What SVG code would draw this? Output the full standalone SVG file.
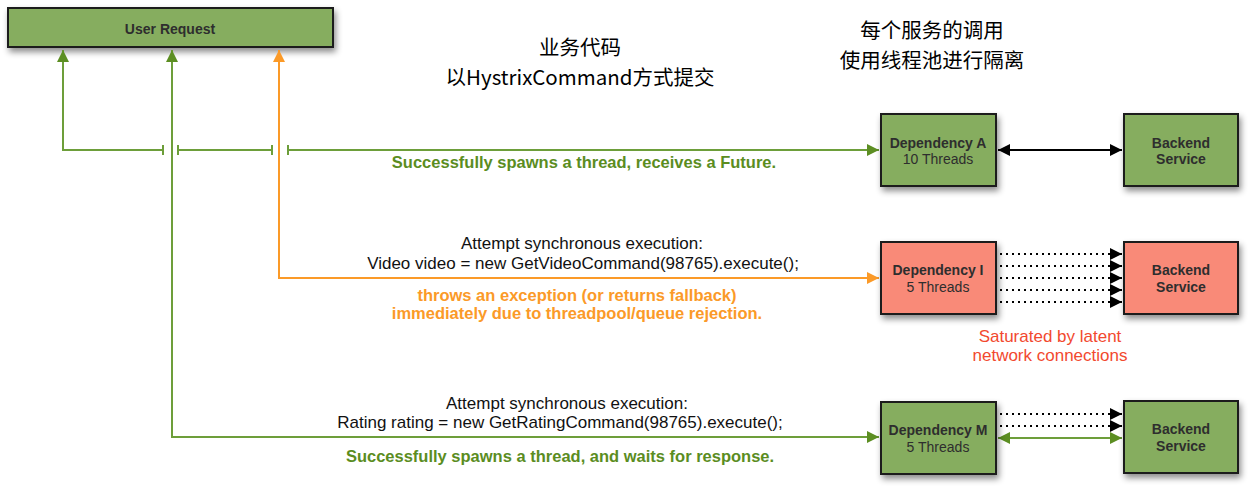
<svg xmlns="http://www.w3.org/2000/svg" width="1250" height="488" viewBox="0 0 1250 488">
<defs>
<filter id="sh" x="-10%" y="-10%" width="130%" height="140%">
<feDropShadow dx="2" dy="4" stdDeviation="3" flood-color="#000" flood-opacity="0.45"/>
</filter>
<marker id="ag" viewBox="0 0 10 10" refX="10" refY="5" markerWidth="12" markerHeight="12" markerUnits="userSpaceOnUse" orient="auto-start-reverse"><path d="M0,0 L10,5 L0,10 Z" fill="#5c8e22"/></marker>
<marker id="ao" viewBox="0 0 10 10" refX="10" refY="5" markerWidth="12" markerHeight="12" markerUnits="userSpaceOnUse" orient="auto-start-reverse"><path d="M0,0 L10,5 L0,10 Z" fill="#fb9a28"/></marker>
<marker id="ak" viewBox="0 0 10 10" refX="10" refY="5" markerWidth="12" markerHeight="12" markerUnits="userSpaceOnUse" orient="auto-start-reverse"><path d="M0,0 L10,5 L0,10 Z" fill="#000"/></marker>
</defs>
<style>
.g{fill:#86ad5e;stroke:#1e1e1e;stroke-width:2}
.r{fill:#f98a78;stroke:#1e1e1e;stroke-width:2}
.t{font-family:"Liberation Sans",Arial,sans-serif;text-anchor:middle}
.nb{font-size:14px;font-weight:bold;fill:#2e2e2e}
.nr{font-size:14px;fill:#2e2e2e}
.lg{stroke:#6d9e3a;stroke-width:2;fill:none}
.lo{stroke:#fb9a28;stroke-width:2;fill:none}
.dk{stroke:#000;stroke-width:2;fill:none;stroke-dasharray:2 4}
.cn{font-family:"Noto Sans CJK SC","Noto Sans",sans-serif;font-size:20.5px;text-anchor:middle;fill:#000}
.body{font-size:17px;fill:#111}
.gb{font-size:16.5px;font-weight:bold;fill:#5b8d1f}
.ob{font-size:16.5px;font-weight:bold;fill:#fb9a28}
.rd{font-size:17px;fill:#f2492f}
</style>

<g id="user-request">
<rect class="g" x="8" y="8" width="325" height="39" filter="url(#sh)"/>
<text class="t nb" x="170" y="34" font-size="15">User Request</text>
</g>

<g id="label-business">
<text class="cn" x="580" y="55">业务代码<tspan x="580" dy="30">以HystrixCommand方式提交</tspan></text>
</g>
<g id="label-isolation">
<text class="cn" x="932" y="38">每个服务的调用<tspan x="932" dy="30">使用线程池进行隔离</tspan></text>
</g>

<g id="connectors">
<polyline class="lg" points="163,150 63,150 63,50" marker-end="url(#ag)"/>
<line class="lg" x1="163" y1="145" x2="163" y2="155"/>
<line class="lg" x1="178" y1="150" x2="272" y2="150"/>
<line class="lg" x1="178" y1="145" x2="178" y2="155"/>
<line class="lg" x1="272" y1="145" x2="272" y2="155"/>
<line class="lg" x1="288" y1="150" x2="879" y2="150" marker-end="url(#ag)"/>
<line class="lg" x1="288" y1="145" x2="288" y2="155"/>
<polyline class="lg" points="879,437 172,437 172,50" marker-start="url(#ag)" marker-end="url(#ag)"/>
<polyline class="lo" points="879,278 279,278 279,50" marker-start="url(#ao)" marker-end="url(#ao)"/>
<line x1="998" y1="150" x2="1122" y2="150" stroke="#000" stroke-width="2" marker-start="url(#ak)" marker-end="url(#ak)"/>
<line class="dk" x1="1000" y1="254" x2="1122" y2="254" marker-end="url(#ak)"/>
<line class="dk" x1="1000" y1="266" x2="1122" y2="266" marker-end="url(#ak)"/>
<line class="dk" x1="1000" y1="278" x2="1122" y2="278" marker-end="url(#ak)"/>
<line class="dk" x1="1000" y1="290" x2="1122" y2="290" marker-end="url(#ak)"/>
<line class="dk" x1="1000" y1="302" x2="1122" y2="302" marker-end="url(#ak)"/>
<line class="dk" x1="1000" y1="414" x2="1122" y2="414" marker-end="url(#ak)"/>
<line class="dk" x1="1000" y1="426" x2="1122" y2="426" marker-end="url(#ak)"/>
<line class="lg" x1="998" y1="438" x2="1122" y2="438" marker-start="url(#ag)" marker-end="url(#ag)"/>
</g>

<g id="label-a">
<text class="t gb" x="584" y="168">Successfully spawns a thread, receives a Future.</text>
</g>
<g id="label-i">
<text class="t body" x="582" y="249">Attempt synchronous execution:<tspan x="583" dy="20">Video video = new GetVideoCommand(98765).execute();</tspan></text>
<text class="t ob" x="577" y="301">throws an exception (or returns fallback)<tspan x="577" dy="18">immediately due to threadpool/queue rejection.</tspan></text>
</g>
<g id="label-m">
<text class="t body" x="567" y="409">Attempt synchronous execution:<tspan x="560" dy="19">Rating rating = new GetRatingCommand(98765).execute();</tspan></text>
<text class="t gb" x="560" y="462">Successfully spawns a thread, and waits for response.</text>
</g>
<g id="label-saturated">
<text class="t rd" x="1050" y="342">Saturated by latent<tspan x="1050" dy="19">network connections</tspan></text>
</g>

<g id="dependency-a">
<rect class="g" x="881" y="114" width="115" height="72" filter="url(#sh)"/>
<text class="t nb" x="938" y="148">Dependency A</text>
<text class="t nr" x="938" y="164">10 Threads</text>
</g>
<g id="backend-a">
<rect class="g" x="1124" y="114" width="114" height="72" filter="url(#sh)"/>
<text class="t nb" x="1181" y="148">Backend<tspan x="1181" dy="16">Service</tspan></text>
</g>
<g id="dependency-i">
<rect class="r" x="881" y="242" width="115" height="72" filter="url(#sh)"/>
<text class="t nb" x="938" y="275">Dependency I</text>
<text class="t nr" x="938" y="292">5 Threads</text>
</g>
<g id="backend-i">
<rect class="r" x="1124" y="242" width="114" height="72" filter="url(#sh)"/>
<text class="t nb" x="1181" y="275">Backend<tspan x="1181" dy="17">Service</tspan></text>
</g>
<g id="dependency-m">
<rect class="g" x="881" y="402" width="115" height="72" filter="url(#sh)"/>
<text class="t nb" x="938" y="435">Dependency M</text>
<text class="t nr" x="938" y="452">5 Threads</text>
</g>
<g id="backend-m">
<rect class="g" x="1124" y="401" width="114" height="72" filter="url(#sh)"/>
<text class="t nb" x="1181" y="434">Backend<tspan x="1181" dy="17">Service</tspan></text>
</g>
</svg>
